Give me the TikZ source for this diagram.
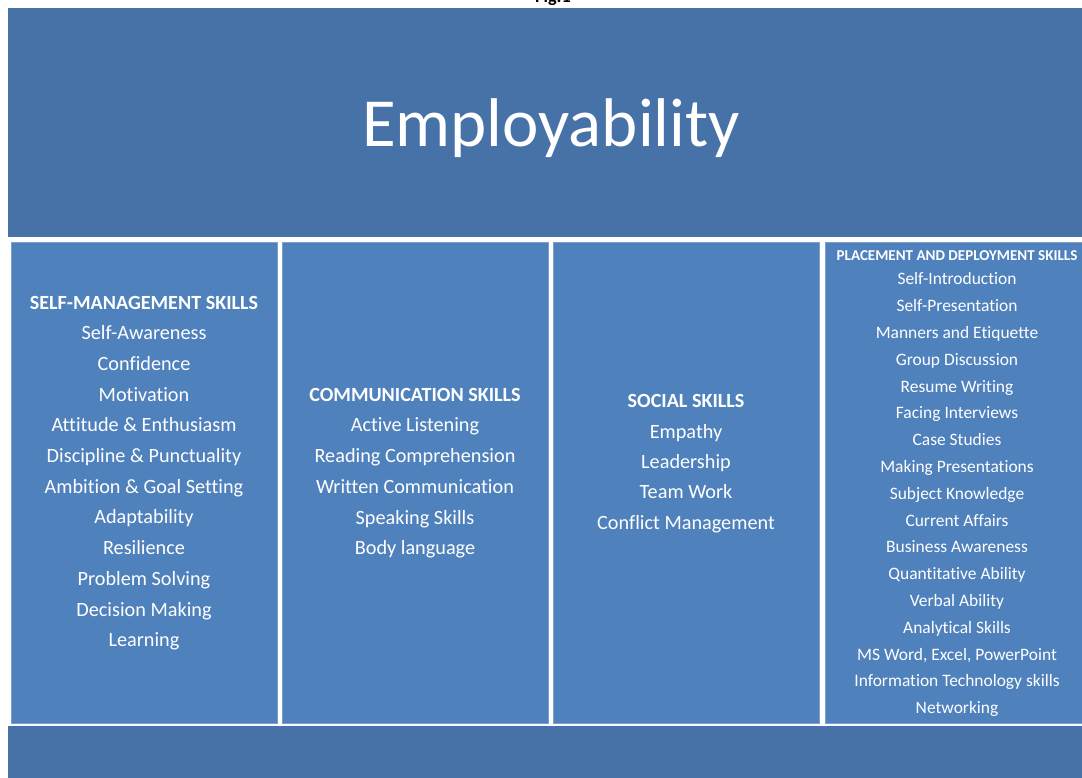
\documentclass[tikz,border=0pt]{standalone}
\usepackage{fontspec}
\setmainfont{Carlito}[Ligatures=NoCommon]

\definecolor{bannerblue}{HTML}{4672A8}
\definecolor{panelblue}{HTML}{4F81BD}

\begin{document}
\begin{tikzpicture}[x=0.025cm, y=-0.025cm,
  panel/.style={fill=panelblue, draw=panelblue!75!white, line width=0.4pt,
    inner sep=0, anchor=north west, minimum width={266*0.025cm}, minimum height={481*0.025cm}},
  bar/.style={fill=bannerblue, inner sep=0, anchor=north west, minimum width={1086*0.025cm}},
  head/.style={text=white, font=\fontsize{14.3}{17}\selectfont\bfseries, anchor=base, inner sep=0},
  item/.style={text=white, font=\fontsize{14.4}{17}\selectfont, anchor=base, inner sep=0},
  smallhead/.style={head, font=\fontsize{10.7}{13}\selectfont\bfseries},
  smallitem/.style={item, font=\fontsize{12.4}{15}\selectfont}]

\useasboundingbox (0,0) rectangle (1082,777);
\fill[white] (0,0) rectangle (1082,777);
\clip (0,0) rectangle (1082,777);

% caption, cut off at the top
\node[text=black, font=\fontsize{13}{15}\selectfont\bfseries, anchor=base, inner sep=0] (caption) at (553,2) {Fig.1};

% title banner and footer bar
\node[bar, minimum height={229*0.025cm}] (banner) at (8,8) {};
\node[text=white, font=\fontsize{49}{58}\selectfont, anchor=base, inner sep=0] (title) at (551,146) {Employability};
\node[bar, minimum height={70*0.025cm}] (footer) at (8,726) {};

% the four skill columns
\node[panel] (selfmgmt) at (11,242) {};
\node[panel] (comm) at (282,242) {};
\node[panel] (social) at (553,242) {};
\node[panel] (placement) at (825,242) {};

% Self-management
\node[head] (smhead) at (144,309) {SELF-MANAGEMENT SKILLS};
\foreach \skill [count=\i] in {Self-Awareness, Confidence, Motivation, Attitude \& Enthusiasm,
    Discipline \& Punctuality, Ambition \& Goal Setting, Adaptability, Resilience,
    Problem Solving, Decision Making, Learning}
  \node[item] (sm\i) at (144, 309+30.7*\i) {\skill};

% Communication
\node[head] (cmhead) at (415,401) {COMMUNICATION SKILLS};
\foreach \skill [count=\i] in {Active Listening, Reading Comprehension, Written Communication,
    Speaking Skills, Body language}
  \node[item] (cm\i) at (415, 401+30.75*\i) {\skill};

% Social
\node[head] (sohead) at (686,407) {SOCIAL SKILLS};
\foreach \skill [count=\i] in {Empathy, Leadership, Team Work, Conflict Management}
  \node[item] (so\i) at (686, 408+30.3*\i) {\skill};

% Placement and deployment
\node[smallhead] (pdhead) at (957,260) {PLACEMENT AND DEPLOYMENT SKILLS};
\foreach \skill [count=\i] in {Self-Introduction, Self-Presentation, Manners and Etiquette,
    Group Discussion, Resume Writing, Facing Interviews, Case Studies, Making Presentations,
    Subject Knowledge, Current Affairs, Business Awareness, Quantitative Ability,
    Verbal Ability, Analytical Skills, {MS Word, Excel, PowerPoint},
    Information Technology skills, Networking}
  \node[smallitem] (pd\i) at (957, 258+26.8*\i) {\skill};
\end{tikzpicture}
\end{document}
